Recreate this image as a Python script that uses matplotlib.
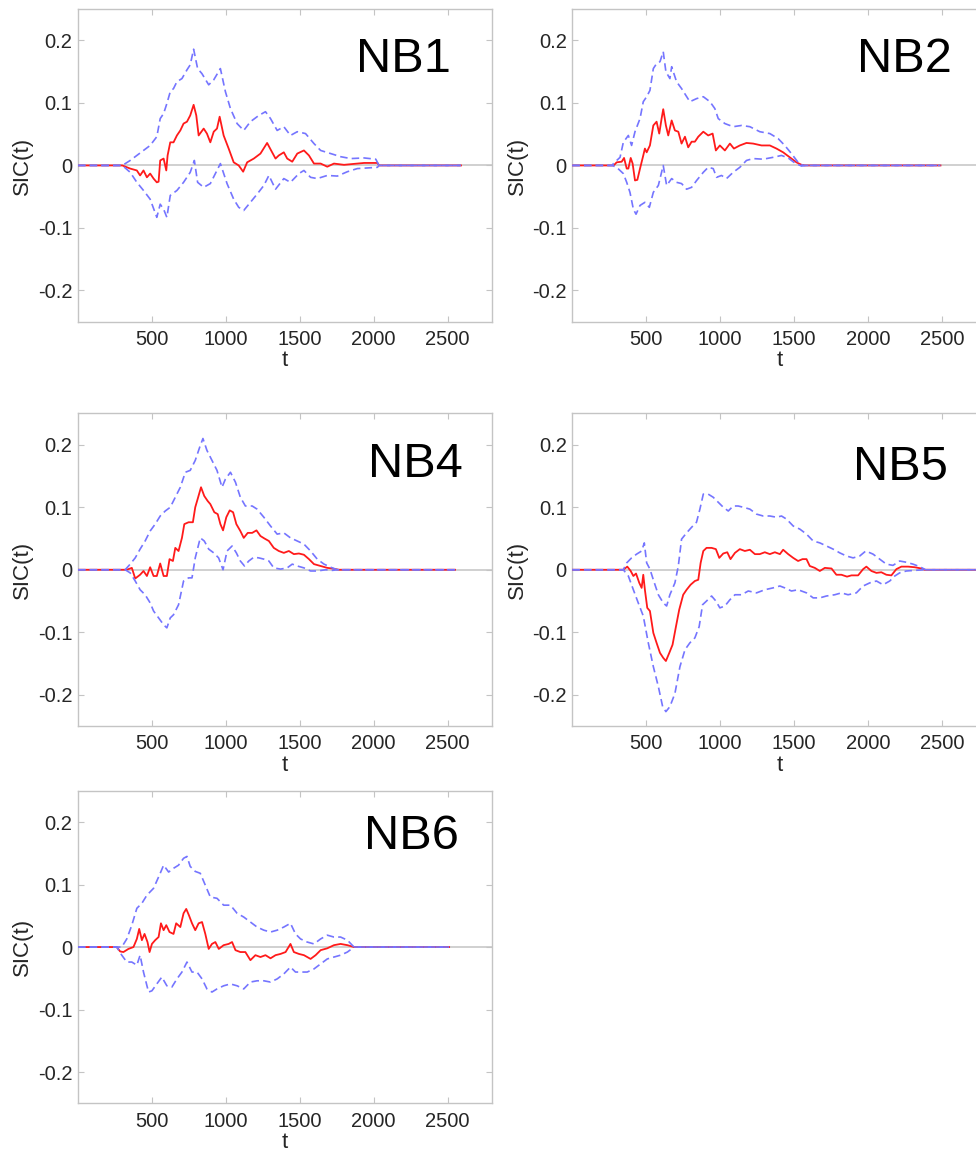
import numpy as np
import matplotlib
matplotlib.use("Agg")
import matplotlib.pyplot as plt

plt.rcParams['font.family'] = ['Liberation Sans', 'DejaVu Sans']

# ---- data: SIC(t) mean and bounds per condition ----
panel_names = ["NB1", "NB2", "NB4", "NB5", "NB6"]
# where the flat zero tail of each series stops
t_end = [2590, 2490, 2550, 2800, 2510]

# NB1
nb1_t_mean = [300, 353, 398, 420, 443, 466, 488, 511, 533, 545, 556, 579, 597, 606, 624, 646, 669, 692, 714, 737,
              759, 782, 800, 816, 850, 872, 895, 918, 940, 958, 985, 1019, 1053, 1087, 1117, 1144, 1189, 1234, 1279,
              1313, 1336, 1358, 1392, 1415, 1449, 1483, 1528, 1562, 1596, 1641, 1686, 1731, 1799, 1889, 1935, 2025, 2036]
nb1_mean = [0, -0.005, -0.008, -0.016, -0.008, -0.019, -0.013, -0.021, -0.027, -0.026, 0.008, 0.011, -0.008, 0.016,
            0.037, 0.037, 0.048, 0.056, 0.067, 0.07, 0.08, 0.097, 0.08, 0.048, 0.059, 0.051, 0.037, 0.054, 0.059,
            0.078, 0.048, 0.027, 0.005, 0, -0.01, 0.005, 0.011, 0.019, 0.036, 0.021, 0.011, 0.016, 0.021, 0.011,
            0.006, 0.019, 0.024, 0.016, 0.003, 0.003, -0.002, 0.003, 0.001, 0.003, 0.004, 0.004, 0]
nb1_t_hi = [300, 353, 398, 443, 488, 533, 556, 579, 601, 624, 646, 669, 703, 737, 759, 782, 809, 838, 884, 918, 963,
            997, 1031, 1076, 1121, 1166, 1223, 1268, 1302, 1347, 1392, 1437, 1483, 1539, 1596, 1641, 1709, 1777,
            1844, 1935, 2014, 2036]
nb1_hi = [0, 0.008, 0.016, 0.024, 0.032, 0.046, 0.075, 0.083, 0.099, 0.118, 0.123, 0.134, 0.139, 0.153, 0.161,
          0.186, 0.155, 0.147, 0.129, 0.137, 0.155, 0.118, 0.091, 0.067, 0.056, 0.07, 0.08, 0.086, 0.075, 0.056,
          0.062, 0.048, 0.054, 0.051, 0.035, 0.024, 0.019, 0.014, 0.011, 0.012, 0.01, 0]
nb1_t_lo = [300, 353, 398, 443, 488, 533, 556, 579, 601, 624, 669, 714, 759, 787, 809, 850, 895, 963, 1008, 1053,
            1087, 1121, 1166, 1211, 1257, 1291, 1336, 1392, 1437, 1494, 1528, 1573, 1618, 1686, 1754, 1822, 1889,
            1957, 2025, 2036]
nb1_lo = [0, -0.011, -0.027, -0.04, -0.054, -0.083, -0.062, -0.07, -0.083, -0.048, -0.04, -0.027, -0.011, 0.008,
          -0.027, -0.035, -0.029, 0.003, -0.029, -0.054, -0.067, -0.072, -0.059, -0.046, -0.032, -0.016, -0.038,
          -0.021, -0.027, -0.013, -0.008, -0.019, -0.021, -0.016, -0.017, -0.01, -0.005, -0.004, -0.003, 0]

# NB2
nb2_t_mean = [280, 300, 334, 350, 368, 379, 395, 408, 424, 440, 458, 480, 491, 503, 525, 548, 570, 588, 604, 615,
              633, 649, 672, 694, 717, 739, 762, 784, 807, 829, 852, 886, 919, 949, 971, 998, 1032, 1066, 1093, 1133,
              1178, 1223, 1280, 1336, 1381, 1426, 1471, 1516, 1550, 1572]
nb2_mean = [0, 0.005, 0.006, 0.012, -0.005, -0.005, 0.012, 0.003, -0.024, -0.023, -0.005, 0.016, 0.027, 0.021,
            0.032, 0.064, 0.07, 0.051, 0.075, 0.09, 0.064, 0.048, 0.072, 0.056, 0.054, 0.035, 0.046, 0.029, 0.038,
            0.038, 0.046, 0.054, 0.048, 0.051, 0.024, 0.032, 0.024, 0.035, 0.027, 0.032, 0.036, 0.035, 0.032,
            0.032, 0.027, 0.021, 0.013, 0.005, 0.001, 0]
nb2_t_hi = [270, 278, 323, 345, 379, 401, 424, 458, 480, 503, 525, 548, 570, 593, 615, 633, 660, 672, 705, 739, 795,
            841, 886, 931, 964, 987, 1032, 1088, 1145, 1201, 1268, 1336, 1392, 1437, 1482, 1527, 1561]
nb2_hi = [0, 0.003, 0.013, 0.037, 0.048, 0.032, 0.054, 0.075, 0.102, 0.11, 0.12, 0.155, 0.163, 0.166, 0.182, 0.15,
          0.139, 0.158, 0.134, 0.123, 0.102, 0.107, 0.11, 0.102, 0.091, 0.075, 0.067, 0.062, 0.064, 0.062, 0.054,
          0.051, 0.043, 0.032, 0.019, 0.005, 0]
nb2_t_lo = [270, 300, 345, 368, 390, 413, 431, 458, 491, 521, 548, 582, 615, 638, 672, 705, 739, 773, 807, 841, 886,
            919, 953, 976, 1009, 1043, 1088, 1133, 1178, 1223, 1291, 1358, 1415, 1460, 1505, 1550, 1572]
nb2_lo = [0, -0.003, -0.013, -0.027, -0.043, -0.07, -0.078, -0.064, -0.059, -0.067, -0.043, -0.032, 0, -0.032,
          -0.021, -0.027, -0.029, -0.038, -0.035, -0.024, -0.011, -0.003, -0.005, -0.019, -0.016, -0.021, -0.011,
          -0.003, 0.008, 0.011, 0.01, 0.013, 0.016, 0.012, 0.004, -0.001, 0]

# NB4
nb4_t_mean = [330, 364, 387, 420, 443, 466, 488, 511, 533, 556, 579, 601, 619, 642, 658, 680, 703, 719, 748, 777,
              793, 809, 832, 854, 877, 895, 922, 945, 963, 981, 1003, 1026, 1049, 1071, 1098, 1121, 1148, 1178,
              1207, 1234, 1261, 1291, 1324, 1358, 1392, 1426, 1460, 1494, 1528, 1562, 1596, 1641, 1686, 1720, 1765]
nb4_mean = [0, 0.003, -0.014, -0.008, -0.002, -0.01, 0.004, -0.01, -0.01, 0.01, -0.01, -0.01, 0.017, 0.014, 0.035,
            0.03, 0.051, 0.073, 0.076, 0.076, 0.1, 0.113, 0.132, 0.118, 0.11, 0.105, 0.092, 0.089, 0.073, 0.063,
            0.084, 0.095, 0.092, 0.073, 0.062, 0.051, 0.059, 0.059, 0.063, 0.054, 0.05, 0.046, 0.035, 0.03, 0.027,
            0.03, 0.025, 0.026, 0.024, 0.017, 0.009, 0.006, 0.003, 0.002, 0]
nb4_t_hi = [319, 353, 387, 420, 454, 488, 522, 556, 590, 624, 658, 692, 726, 759, 793, 823, 845, 872, 906, 940, 974,
            997, 1031, 1065, 1098, 1132, 1178, 1211, 1257, 1302, 1347, 1392, 1437, 1483, 1528, 1573, 1618, 1664,
            1709, 1754]
nb4_hi = [0, 0.009, 0.019, 0.033, 0.046, 0.062, 0.073, 0.086, 0.094, 0.1, 0.116, 0.132, 0.156, 0.159, 0.175,
          0.196, 0.21, 0.191, 0.175, 0.159, 0.132, 0.145, 0.156, 0.14, 0.116, 0.102, 0.102, 0.097, 0.084, 0.07,
          0.057, 0.059, 0.051, 0.046, 0.041, 0.03, 0.017, 0.009, 0.004, 0]
nb4_t_lo = [319, 353, 387, 420, 454, 488, 511, 545, 579, 601, 624, 646, 680, 714, 748, 771, 793, 827, 854, 884, 918,
            951, 981, 1008, 1042, 1071, 1098, 1126, 1155, 1189, 1223, 1257, 1291, 1324, 1370, 1415, 1449, 1483,
            1528, 1573, 1618, 1675, 1720, 1754]
nb4_lo = [0, -0.005, -0.018, -0.032, -0.04, -0.053, -0.066, -0.077, -0.088, -0.093, -0.077, -0.072, -0.056, -0.018,
          -0.013, -0.013, 0.019, 0.051, 0.046, 0.033, 0.027, 0.019, 0, 0.03, 0.038, 0.027, 0.014, 0.006, 0.014,
          0.02, 0.019, 0.017, 0.014, 0.003, 0.001, 0.003, 0.009, 0.006, 0.003, -0.002, -0.002, 0, -0.001, 0]

# NB5
nb5_t_mean = [345, 372, 395, 413, 431, 453, 469, 480, 491, 507, 525, 548, 570, 593, 615, 633, 656, 678, 701, 723,
              750, 773, 800, 829, 852, 868, 886, 908, 942, 971, 994, 1021, 1048, 1070, 1100, 1133, 1167, 1201, 1235,
              1268, 1302, 1336, 1370, 1404, 1426, 1460, 1494, 1527, 1557, 1584, 1606, 1640, 1674, 1708, 1753, 1786,
              1820, 1858, 1888, 1933, 1967, 1989, 2023, 2057, 2090, 2124, 2158, 2192, 2226, 2271, 2316, 2361, 2383]
nb5_mean = [0, 0.005, -0.002, -0.01, -0.006, -0.021, -0.029, -0.008, -0.032, -0.061, -0.066, -0.101, -0.117,
            -0.133, -0.141, -0.146, -0.133, -0.12, -0.091, -0.064, -0.04, -0.032, -0.024, -0.018, -0.016, 0.011,
            0.03, 0.035, 0.035, 0.033, 0.019, 0.026, 0.028, 0.017, 0.027, 0.033, 0.03, 0.032, 0.025, 0.025, 0.028,
            0.025, 0.028, 0.025, 0.032, 0.025, 0.019, 0.014, 0.017, 0.017, 0.006, 0.003, -0.002, 0.003, 0.002,
            -0.008, -0.008, -0.011, -0.009, -0.009, 0.001, 0.005, -0.002, -0.005, -0.004, -0.008, -0.009, 0.001,
            0.005, 0.005, 0.004, 0.002, 0]
nb5_t_hi = [345, 368, 401, 435, 469, 487, 503, 525, 548, 582, 615, 638, 660, 694, 717, 739, 773, 807, 840, 863, 886,
            919, 953, 987, 1021, 1055, 1088, 1122, 1156, 1201, 1246, 1291, 1336, 1381, 1415, 1449, 1494, 1539,
            1584, 1629, 1674, 1719, 1764, 1809, 1854, 1899, 1944, 1985, 2034, 2079, 2124, 2169, 2214, 2259, 2304,
            2349, 2390]
nb5_hi = [0, 0.011, 0.019, 0.025, 0.03, 0.043, 0.011, 0.001, -0.016, -0.04, -0.053, -0.058, -0.04, -0.021, 0.006,
          0.049, 0.059, 0.068, 0.076, 0.097, 0.121, 0.121, 0.116, 0.108, 0.1, 0.094, 0.102, 0.102, 0.1, 0.097,
          0.089, 0.086, 0.086, 0.084, 0.086, 0.081, 0.07, 0.065, 0.057, 0.046, 0.043, 0.038, 0.033, 0.027, 0.022,
          0.019, 0.022, 0.03, 0.025, 0.017, 0.009, 0.007, 0.014, 0.012, 0.009, 0.005, 0]
nb5_t_lo = [345, 379, 413, 446, 480, 514, 548, 582, 611, 633, 660, 694, 728, 762, 795, 829, 858, 881, 908, 942, 971,
            998, 1032, 1066, 1100, 1145, 1190, 1246, 1302, 1358, 1404, 1437, 1482, 1527, 1584, 1629, 1674, 1719,
            1775, 1820, 1865, 1921, 1967, 2012, 2057, 2102, 2147, 2181, 2214, 2259, 2316, 2383]
nb5_lo = [0, -0.01, -0.032, -0.053, -0.074, -0.117, -0.155, -0.187, -0.219, -0.227, -0.219, -0.198, -0.155, -0.128,
          -0.117, -0.109, -0.091, -0.056, -0.05, -0.042, -0.05, -0.061, -0.058, -0.048, -0.04, -0.04, -0.034,
          -0.037, -0.032, -0.029, -0.026, -0.029, -0.034, -0.032, -0.037, -0.045, -0.045, -0.042, -0.04, -0.037,
          -0.04, -0.037, -0.026, -0.021, -0.018, -0.024, -0.018, -0.01, -0.005, -0.002, -0.001, 0]

# NB6
nb6_t_mean = [262, 285, 307, 341, 375, 398, 414, 432, 450, 470, 484, 500, 522, 545, 561, 579, 597, 619, 646, 664,
              692, 714, 732, 750, 771, 793, 816, 839, 861, 884, 906, 929, 952, 985, 1019, 1042, 1065, 1098, 1132,
              1166, 1200, 1234, 1268, 1302, 1336, 1370, 1404, 1437, 1460, 1494, 1528, 1573, 1607, 1641, 1686, 1731,
              1776, 1822, 1867]
nb6_mean = [0, -0.007, -0.008, -0.003, 0, 0.013, 0.029, 0.011, 0.021, 0.008, -0.008, 0.005, 0.011, 0.016, 0.038,
            0.027, 0.035, 0.024, 0.021, 0.038, 0.032, 0.054, 0.061, 0.051, 0.038, 0.027, 0.038, 0.04, 0.021,
            -0.003, 0.005, 0.008, -0.003, 0.003, 0.005, 0.008, -0.005, -0.008, -0.008, -0.021, -0.013, -0.016,
            -0.013, -0.018, -0.013, -0.011, -0.008, 0.005, -0.008, -0.011, -0.013, -0.019, -0.013, -0.005, -0.002,
            0.003, 0.005, 0.003, 0]
nb6_t_hi = [262, 296, 330, 364, 398, 432, 466, 511, 556, 579, 613, 646, 680, 714, 737, 759, 793, 827, 861, 895, 940,
            985, 1031, 1076, 1121, 1166, 1211, 1257, 1302, 1347, 1392, 1437, 1471, 1505, 1550, 1596, 1641, 1686,
            1731, 1776, 1822, 1867]
nb6_hi = [0, 0, 0.013, 0.035, 0.062, 0.07, 0.083, 0.094, 0.118, 0.131, 0.12, 0.126, 0.131, 0.142, 0.145, 0.129,
          0.121, 0.118, 0.099, 0.08, 0.078, 0.067, 0.067, 0.054, 0.048, 0.04, 0.032, 0.027, 0.024, 0.027, 0.032,
          0.038, 0.021, 0.013, 0.008, 0.005, 0.013, 0.019, 0.016, 0.016, 0.011, 0]
nb6_t_lo = [262, 296, 330, 364, 398, 420, 443, 477, 500, 533, 567, 601, 635, 669, 703, 737, 771, 805, 839, 872, 906,
            940, 985, 1031, 1076, 1121, 1166, 1211, 1257, 1302, 1347, 1392, 1437, 1471, 1505, 1550, 1596, 1641,
            1686, 1731, 1776, 1822, 1867]
nb6_lo = [0, -0.013, -0.024, -0.024, -0.029, -0.013, -0.04, -0.072, -0.07, -0.059, -0.048, -0.062, -0.064, -0.051,
          -0.04, -0.024, -0.04, -0.04, -0.051, -0.067, -0.072, -0.067, -0.062, -0.059, -0.062, -0.067, -0.056,
          -0.054, -0.054, -0.056, -0.051, -0.043, -0.032, -0.04, -0.04, -0.04, -0.035, -0.027, -0.019, -0.016,
          -0.013, -0.008, 0]

series = [
    (nb1_t_mean, nb1_mean, nb1_t_hi, nb1_hi, nb1_t_lo, nb1_lo),
    (nb2_t_mean, nb2_mean, nb2_t_hi, nb2_hi, nb2_t_lo, nb2_lo),
    (nb4_t_mean, nb4_mean, nb4_t_hi, nb4_hi, nb4_t_lo, nb4_lo),
    (nb5_t_mean, nb5_mean, nb5_t_hi, nb5_hi, nb5_t_lo, nb5_lo),
    (nb6_t_mean, nb6_mean, nb6_t_hi, nb6_hi, nb6_t_lo, nb6_lo),
]

x_ticks = [500, 1000, 1500, 2000, 2500]
y_ticks = [-0.2, -0.1, 0, 0.1, 0.2]
y_ticklabels = ["-0.2", "-0.1", "0", "0.1", "0.2"]

# axes rectangles in figure fractions (right column runs past the image edge, like the source)
W, H = 976, 1151
cols = [78, 572.3]
rows_bottom = [321.7, 726.0, 1103.3]
ax_w, ax_h = 414, 312.5
panel_slots = [(0, 0), (0, 1), (1, 0), (1, 1), (2, 0)]
label_pos = [(0.90, 0.80), (0.918, 0.80), (0.93, 0.798), (0.908, 0.787), (0.92, 0.813)]

GRID = "#c4c4c4"
TXT = "#262626"
RED = "#ff1a1a"
BLUE = "#7575ff"


def padded(t, y, end):
    # flat zero before and after the plotted segment
    return [0] + list(t) + [end], [0] + list(y) + [0]


fig = plt.figure(figsize=(W / 100, H / 100), dpi=100)

for i, name in enumerate(panel_names):
    r, c = panel_slots[i]
    ax = fig.add_axes([cols[c] / W, 1 - rows_bottom[r] / H, ax_w / W, ax_h / H])
    tm, m, th, hi, tl, lo = series[i]

    ax.axhline(0, color=GRID, lw=1.1, zorder=1)
    x, y = padded(tm, m, t_end[i])
    ax.plot(x, y, color=RED, lw=1.3, zorder=3)
    for tt, yy in [(th, hi), (tl, lo)]:
        x, y = padded(tt, yy, t_end[i])
        ax.plot(x, y, color=BLUE, lw=1.2, ls=(0, (4.5, 2.5)), zorder=4)

    ax.set_xlim(0, 2800)
    ax.set_ylim(-0.25, 0.25)
    ax.set_xticks(x_ticks)
    ax.set_yticks(y_ticks)
    ax.set_yticklabels(y_ticklabels)
    for s in ax.spines.values():
        s.set_color(GRID)
        s.set_linewidth(1.0)
    ax.tick_params(direction="in", length=4, width=0.8, color=GRID, top=True, right=True,
                   labelsize=14.5, labelcolor=TXT)
    ax.tick_params(axis="x", pad=6)
    ax.tick_params(axis="y", pad=4)

    ax.set_xlabel("t", fontsize=16, color=TXT)
    ax.xaxis.set_label_coords(0.5, -0.092)
    ax.set_ylabel("SIC(t)", fontsize=16, color=TXT)
    ax.yaxis.set_label_coords(-0.108, 0.5)

    lx, ly = label_pos[i]
    ax.text(lx, ly, name, transform=ax.transAxes, ha="right", va="baseline",
            fontsize=35, color="black")

fig.savefig("out.png", dpi=100)
